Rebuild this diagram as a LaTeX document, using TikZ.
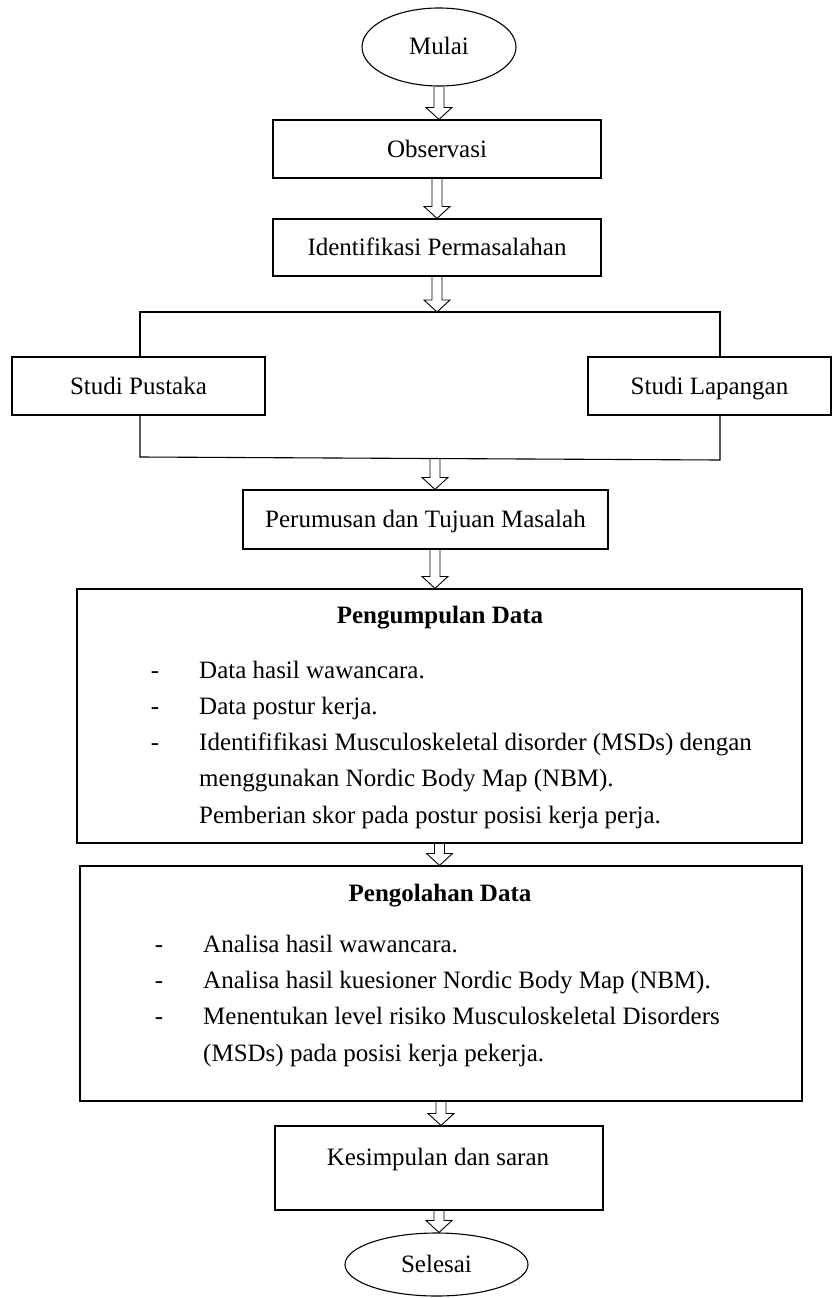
\documentclass[tikz,border=0pt]{standalone}
\usepackage{fontspec}
\setmainfont{Liberation Serif}
\usetikzlibrary{shapes.geometric,calc}
\tikzset{
  fnt/.style={font=\fontsize{25}{30}\selectfont, text height=17pt, text depth=1pt},
  box/.style={draw, line width=1.1pt, rectangle, inner sep=0pt, fnt},
  oval/.style={draw, line width=1.1pt, ellipse, inner sep=0pt, fnt},
  txt/.style={inner sep=0pt, fnt},
  ttl/.style={inner sep=0pt, fnt, font=\fontsize{25}{30}\selectfont\bfseries},
  itm/.style={inner sep=0pt, anchor=west, fnt},
  harr/.style={line width=0.9pt},
  link/.style={line width=1.1pt},
}
\newcommand{\harrow}[2]{%
  \draw[harr] let \p1=(#1), \p2=(#2) in
    (\x1-5pt,\y1) -- (\x1-5pt,\y2+12pt) -- (\x1-13pt,\y2+12pt) -- (\x1,\y2)
    -- (\x1+13pt,\y2+12pt) -- (\x1+5pt,\y2+12pt) -- (\x1+5pt,\y1);}
\begin{document}
\begin{tikzpicture}[x=1pt,y=-1pt]
\useasboundingbox (0,0) rectangle (832,1298);

% start
\node[oval, minimum width=154pt, minimum height=78pt] (mulai) at (439,47) {Mulai};
\node[box, minimum width=328pt, minimum height=58pt] (obs) at (437,149) {Observasi};
\node[box, minimum width=328pt, minimum height=57pt] (ident) at (437,247.5) {Identifikasi Permasalahan};

% parallel studies
\coordinate (btop) at (434,312);
\coordinate (bl) at (140,312);
\coordinate (br) at (720,312);
\node[box, minimum width=253pt, minimum height=58pt] (pustaka) at (138.5,386) {Studi Pustaka};
\node[box, minimum width=243pt, minimum height=58pt] (lapangan) at (709.5,386) {Studi Lapangan};
\coordinate (bbl) at (140,457);
\coordinate (bbr) at (720,460);
\coordinate (bbot) at (435,459);
\draw[link] (pustaka.north -| bl) -- (bl) -- (br) -- (lapangan.north -| br);
\draw[link] (pustaka.south -| bbl) -- (bbl) -- (bbr) -- (lapangan.south -| bbr);

\node[box, minimum width=365pt, minimum height=59pt] (perum) at (425.5,519.5) {Perumusan dan Tujuan Masalah};

% Pengumpulan Data
\node[box, minimum width=725pt, minimum height=254pt] (kumpul) at (439.5,716) {};
\node[ttl] (kt) at (440,615) {Pengumpulan Data};
\node[txt] (kd1) at (155,670) {-};
\node[itm] (k1) at (199,670) {Data hasil wawancara.};
\node[txt] (kd2) at (155,706) {-};
\node[itm] (k2) at (199,706) {Data postur kerja.};
\node[txt] (kd3) at (155,742) {-};
\node[itm] (k3) at (199,742) {Identififikasi Musculoskeletal disorder (MSDs) dengan};
\node[itm] (k4) at (199,778) {menggunakan Nordic Body Map (NBM).};
\node[itm] (k5) at (199,815) {Pemberian skor pada postur posisi kerja perja.};

% Pengolahan Data
\node[box, minimum width=722pt, minimum height=235pt] (olah) at (441,983.5) {};
\node[ttl] (ot) at (440,893) {Pengolahan Data};
\node[txt] (od1) at (159,944) {-};
\node[itm] (o1) at (203,944) {Analisa hasil wawancara.};
\node[txt] (od2) at (159,980) {-};
\node[itm] (o2) at (203,980) {Analisa hasil kuesioner Nordic Body Map (NBM).};
\node[txt] (od3) at (159,1016) {-};
\node[itm] (o3) at (203,1016) {Menentukan level risiko Musculoskeletal Disorders};
\node[itm] (o4) at (203,1053) {(MSDs) pada posisi kerja pekerja.};

% end
\node[box, minimum width=328pt, minimum height=84pt] (simpul) at (439,1168) {};
\node[txt] (st) at (438,1157) {Kesimpulan dan saran};
\node[oval, minimum width=183pt, minimum height=63pt] (selesai) at (436.5,1264.5) {Selesai};

% hollow arrows
\harrow{mulai.south}{obs.north}
\harrow{obs.south}{ident.north}
\harrow{ident.south}{btop}
\harrow{bbot}{perum.north}
\harrow{perum.south -| bbot}{kumpul.north}
\harrow{kumpul.south}{olah.north}
\harrow{olah.south}{simpul.north}
\harrow{simpul.south}{selesai.north}
\end{tikzpicture}
\end{document}
